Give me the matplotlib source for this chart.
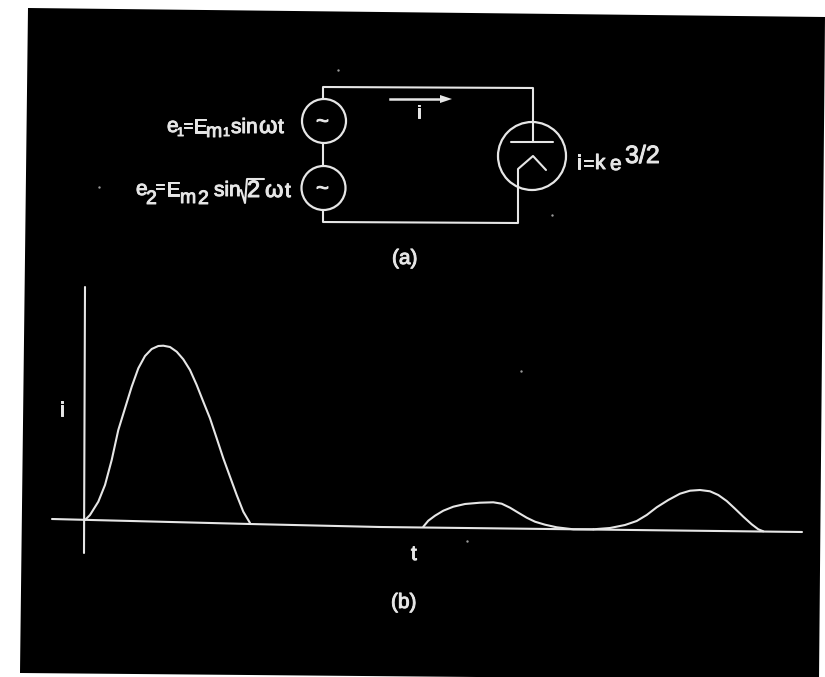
import matplotlib
matplotlib.use('Agg')
import matplotlib.pyplot as plt
import matplotlib.patheffects as pe
from matplotlib.patches import Circle, Polygon

# everything in pixels, so the axes run in pixels too
W, H = 825, 677
INK = '#e6e6e6'

# sheet edges, the scan is a bit skewed
sheet_x = [28, 825, 819, 20]
sheet_y = [8, 17, 680, 673]

# part (b), current vs time
axis_x = [52, 250, 380, 802]
axis_y = [519, 524, 527, 532]
vert_x = [85, 84]
vert_y = [287, 553]
pulse1_x = [85, 90, 98.3, 105, 111.7, 118.3, 125, 131.7, 138.3, 145, 151.7, 158.3, 163.3, 170, 176.7, 183.3,
            190, 196.7, 203.3, 210, 216.7, 223.3, 230, 236.7, 243.3, 250]
pulse1_y = [520, 515, 501.7, 485, 460, 430, 408.3, 386.7, 368.3, 356, 349, 346, 345.7, 347, 351.7, 359.3,
            370, 385, 401.7, 418.3, 438.3, 458.3, 476.7, 495, 511.7, 523]
pulse2_x = [423.3, 428.3, 435, 443.3, 453.3, 465, 480, 493.3, 501.7, 510, 518.3, 526.7, 535, 545, 556.7, 573.3,
            593.3]
pulse2_y = [526.7, 520.7, 515.7, 510.7, 506.7, 504, 502.7, 502.3, 503.7, 507.7, 512.7, 517.7, 521.7, 524.7,
            527.3, 529.3, 529.3]
pulse3_x = [593.3, 610, 625, 636.7, 646.7, 656.7, 668.3, 680, 690, 700, 710, 718.3, 726.7, 735, 743.3, 751.7,
            758.3, 763.3]
pulse3_y = [529.3, 528, 525, 521, 515, 507.3, 500, 493.7, 490.7, 490, 491.3, 495, 501, 508.7, 516.7, 524.3,
            529.3, 531.3]

# part (a), circuit wires
top_wire_x = [323, 323, 533, 533]
top_wire_y = [99, 87, 88, 122]
mid_wire_x = [323, 323]
mid_wire_y = [143, 166]
bot_wire_x = [323, 323, 518, 518, 533, 546]
bot_wire_y = [210, 222, 223, 169, 156, 170]
plate_x = [511, 553]
plate_y = [142, 142]
stem_x = [533, 533]
stem_y = [122, 142]
sources = [(324, 121, 22), (323.5, 188, 22), (532, 156, 34)]
root_x = [238, 241, 245, 247, 264]
root_y = [192, 190, 203, 179, 179]
specks_x = [521, 552, 467, 99, 338]
specks_y = [371, 215, 541, 187, 70]

labels = [
    (167, 132, 'e', 15), (177, 136, '1', 9), (183, 131, '=', 12), (193, 133, 'E', 15),
    (206, 137, 'm', 14), (223, 136, '1', 9), (231, 133, 'sin', 15), (259, 133, 'ω', 17), (278, 133, 't', 15),
    (136, 195, 'e', 15), (146, 204, '2', 14), (155, 192, '=', 12), (166, 196, 'E', 15),
    (180, 203, 'm', 14), (198, 204, '2', 14), (214, 196, 'sin', 15), (247, 197, '2', 17),
    (265, 197, 'ω', 17), (285, 197, 't', 15),
    (577, 169, 'i', 15), (583, 169, '=', 13), (595, 169, 'k', 15), (610, 170, 'e', 15), (625, 163, '3/2', 18),
    (417, 118, 'i', 13), (60, 416, 'i', 15), (411, 560, 't', 15),
    (392, 264, '(a)', 15), (391, 608, '(b)', 15),
    (316, 128, '~', 16), (316, 195, '~', 16),
]

plt.rcParams['font.family'] = ['Liberation Sans', 'DejaVu Sans']
fig = plt.figure(figsize=(W / 100, H / 100), dpi=100)
ax = fig.add_axes([0, 0, 1, 1])
ax.set_xlim(0, W)
ax.set_ylim(H, 0)
ax.axis('off')

ax.add_patch(Polygon(list(zip(sheet_x, sheet_y)), closed=True, fc='black', ec='none'))

for xs, ys in [(axis_x, axis_y), (vert_x, vert_y), (pulse1_x, pulse1_y), (pulse2_x, pulse2_y),
               (pulse3_x, pulse3_y), (top_wire_x, top_wire_y), (mid_wire_x, mid_wire_y),
               (bot_wire_x, bot_wire_y), (plate_x, plate_y), (stem_x, stem_y), (root_x, root_y)]:
    ax.plot(xs, ys, color=INK, lw=1.5, solid_joinstyle='round', solid_capstyle='round')

for cx, cy, r in sources:
    ax.add_patch(Circle((cx, cy), r, fill=False, ec=INK, lw=1.6))

# current arrow
ax.plot([390, 442], [99, 99], color=INK, lw=1.8)
ax.add_patch(Polygon([(440, 95), (452, 99), (440, 103)], closed=True, fc=INK, ec='none'))

ax.scatter(specks_x, specks_y, s=3, color='#999999', linewidths=0)

# the lettering on the slide is heavier than a regular weight
heavy = [pe.withStroke(linewidth=0.7, foreground=INK)]
for x, y, s, size in labels:
    ax.text(x, y, s, color=INK, fontsize=size, ha='left', va='baseline', path_effects=heavy)

fig.savefig('out.png', dpi=100, facecolor='white')
